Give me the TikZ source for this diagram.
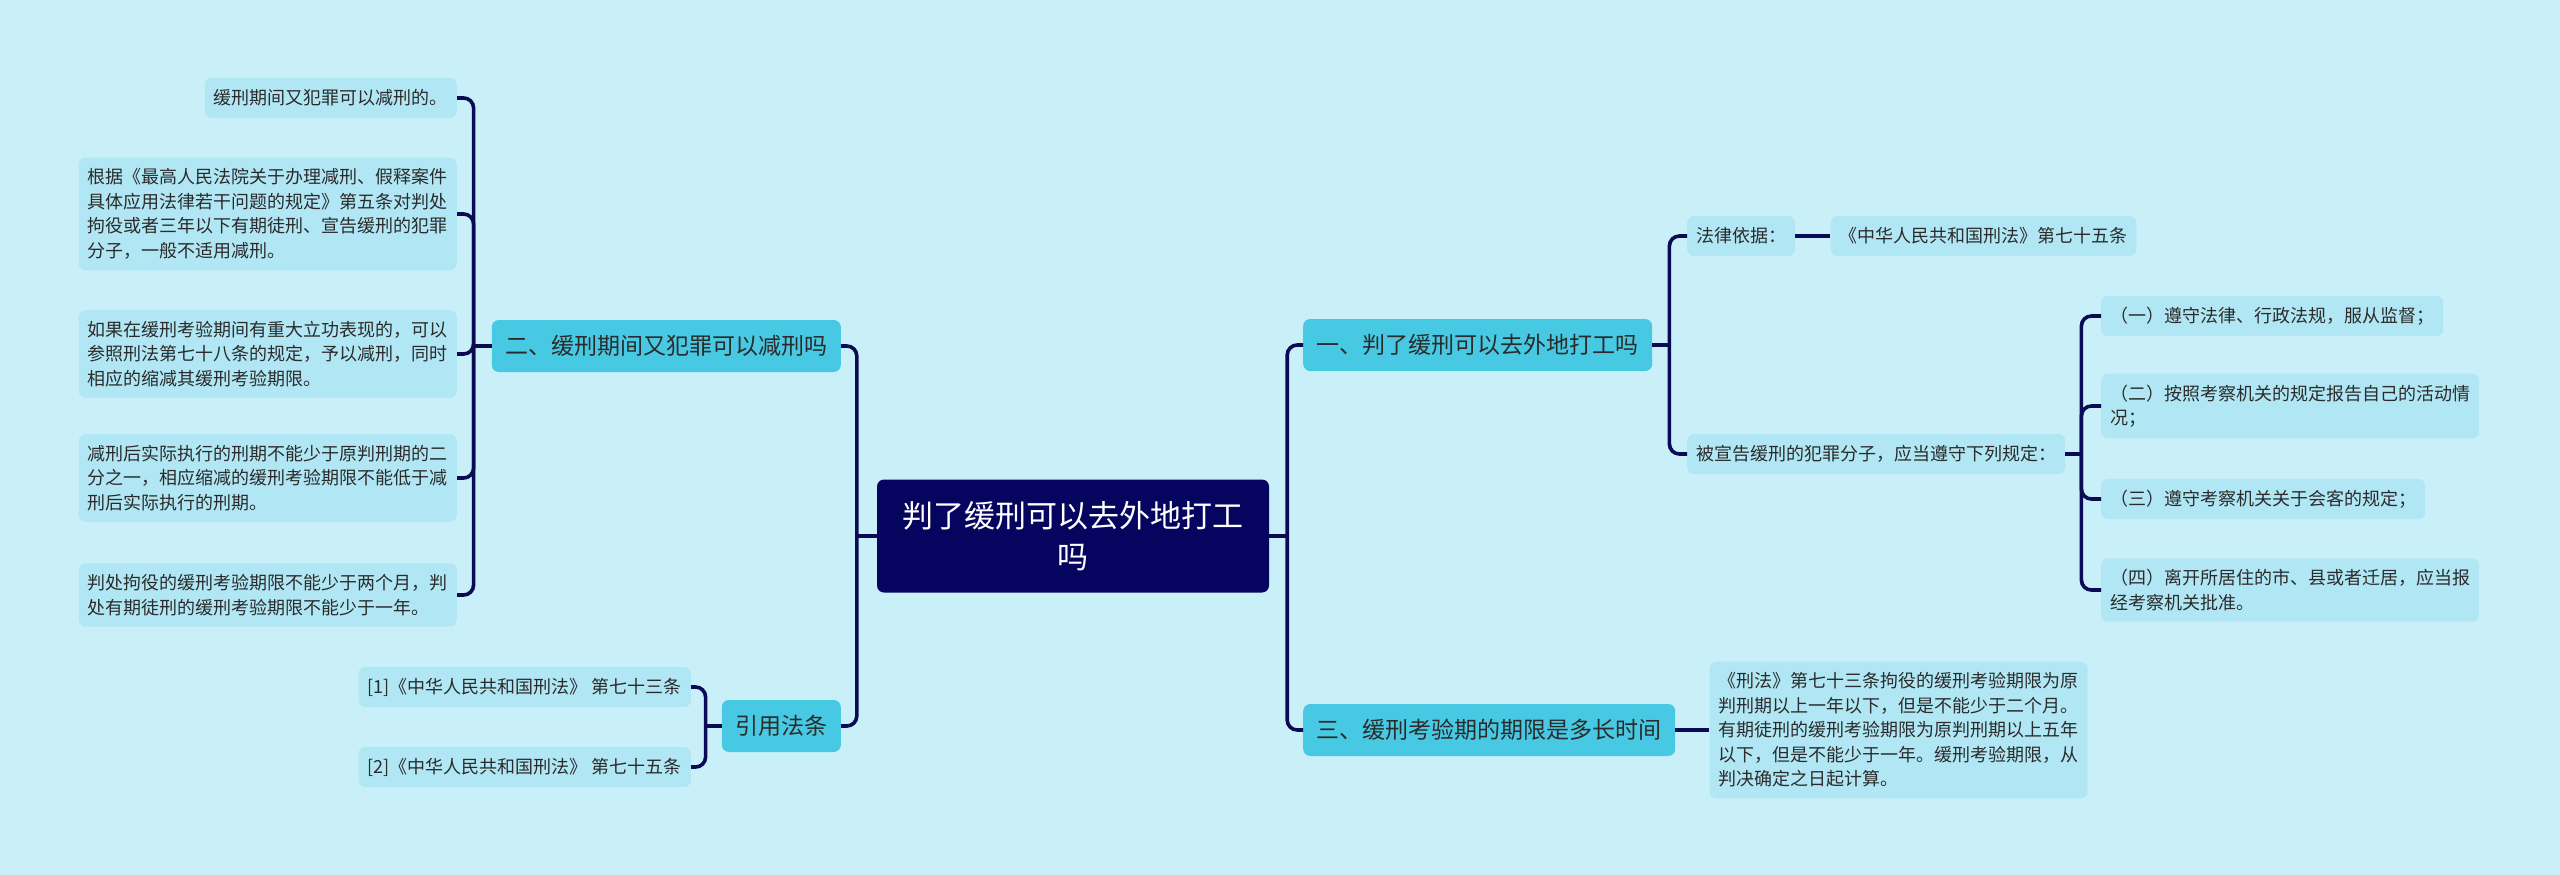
\documentclass[tikz,border=0pt]{standalone}
\usepackage{fontspec}
\setmainfont{Noto Sans CJK SC}
\usetikzlibrary{positioning}
\definecolor{bgc}{HTML}{C9F0F8}
\definecolor{leafc}{HTML}{B1E7F4}
\definecolor{branchc}{HTML}{48C9E3}
\definecolor{rootc}{HTML}{05055F}
\definecolor{linkc}{HTML}{0B0A55}
\definecolor{inkc}{HTML}{2B2B2B}
\newcommand\leafsize{\fontsize{18}{24.5}\selectfont}
\newcommand\branchsize{\fontsize{23}{28}\selectfont}
\newcommand\topicsize{\fontsize{31}{41}\selectfont}
\tikzset{
  leaf/.style={fill=leafc, rounded corners=7pt, align=left, text=inkc, font=\leafsize,
    inner xsep=9pt, inner ysep=11pt, minimum height=40pt},
  branch/.style={fill=branchc, rounded corners=7pt, text=inkc, font=\branchsize,
    inner xsep=13.5pt, minimum height=52pt},
  topic/.style={fill=rootc, rounded corners=7pt, text=white, align=center, font=\topicsize,
    minimum width=392pt, minimum height=113pt},
  link/.style={draw=linkc, line width=3.6pt, rounded corners=10pt}
}

\begin{document}
\begin{tikzpicture}[x=1pt, y=-1pt]
  \fill[bgc] (0,0) rectangle (2560,875);
  \useasboundingbox (0,0) rectangle (2560,875);

  \node[topic] (topic) at (1073,536) {判了缓刑可以去外地打工\\吗};

  % main branches
  \node[branch, anchor=west] (q1) at (1303,345) {一、判了缓刑可以去外地打工吗};
  \node[branch, anchor=west] (q3) at (1303,730) {三、缓刑考验期的期限是多长时间};
  \node[branch, anchor=east] (q2) at (841,346) {二、缓刑期间又犯罪可以减刑吗};
  \node[branch, anchor=east] (cite) at (841,726) {引用法条};

  % branch one
  \node[leaf, anchor=west] (basis) at (1687,236) {法律依据：};
  \node[leaf, right=35pt of basis] (article) {《中华人民共和国刑法》第七十五条};
  \node[leaf, anchor=west] (duty) at (1687,454) {被宣告缓刑的犯罪分子，应当遵守下列规定：};
  \node[leaf, anchor=west] (d1) at (2101,316) {（一）遵守法律、行政法规，服从监督；};
  \node[leaf, anchor=west] (d2) at (2101,406) {（二）按照考察机关的规定报告自己的活动情\\况；};
  \node[leaf, anchor=west] (d3) at (2101,499) {（三）遵守考察机关关于会客的规定；};
  \node[leaf, anchor=west] (d4) at (2101,590) {（四）离开所居住的市、县或者迁居，应当报\\经考察机关批准。};

  % branch three
  \node[leaf, right=34pt of q3] (term) {《刑法》第七十三条拘役的缓刑考验期限为原\\判刑期以上一年以下，但是不能少于二个月。\\有期徒刑的缓刑考验期限为原判刑期以上五年\\以下，但是不能少于一年。缓刑考验期限，从\\判决确定之日起计算。};

  % branch two
  \node[leaf, anchor=east] (r1) at (457,98) {缓刑期间又犯罪可以减刑的。};
  \node[leaf, anchor=east] (r2) at (457,214) {根据《最高人民法院关于办理减刑、假释案件\\具体应用法律若干问题的规定》第五条对判处\\拘役或者三年以下有期徒刑、宣告缓刑的犯罪\\分子，一般不适用减刑。};
  \node[leaf, anchor=east] (r3) at (457,354) {如果在缓刑考验期间有重大立功表现的，可以\\参照刑法第七十八条的规定，予以减刑，同时\\相应的缩减其缓刑考验期限。};
  \node[leaf, anchor=east] (r4) at (457,478) {减刑后实际执行的刑期不能少于原判刑期的二\\分之一，相应缩减的缓刑考验期限不能低于减\\刑后实际执行的刑期。};
  \node[leaf, anchor=east] (r5) at (457,595) {判处拘役的缓刑考验期限不能少于两个月，判\\处有期徒刑的缓刑考验期限不能少于一年。};

  % cited articles
  \node[leaf, anchor=east] (c1) at (691,687) {[1]《中华人民共和国刑法》 第七十三条};
  \node[leaf, anchor=east] (c2) at (691,767) {[2]《中华人民共和国刑法》 第七十五条};

  % connectors
  \draw[link] (topic.east) -- ++(18,0) coordinate (rhub);
  \draw[link] (rhub) |- (q1.west);
  \draw[link] (rhub) |- (q3.west);
  \draw[link] (topic.west) -- ++(-20,0) coordinate (lhub);
  \draw[link] (lhub) |- (q2.east);
  \draw[link] (lhub) |- (cite.east);

  \draw[link] (q1.east) -- ++(17,0) coordinate (q1hub);
  \draw[link] (q1hub) |- (basis.west);
  \draw[link] (q1hub) |- (duty.west);
  \draw[link] (basis) -- (article);
  \draw[link] (duty.east) -- ++(16,0) coordinate (dhub);
  \draw[link] (dhub) |- (d1.west);
  \draw[link] (dhub) |- (d2.west);
  \draw[link] (dhub) |- (d3.west);
  \draw[link] (dhub) |- (d4.west);
  \draw[link] (q3) -- (term);

  \draw[link] (q2.west) -- ++(-18,0) coordinate (q2hub);
  \draw[link] (q2hub) |- (r1.east);
  \draw[link] (q2hub) |- (r2.east);
  \draw[link] (q2hub) |- (r3.east);
  \draw[link] (q2hub) |- (r4.east);
  \draw[link] (q2hub) |- (r5.east);
  \draw[link] (cite.west) -- ++(-16,0) coordinate (chub);
  \draw[link] (chub) |- (c1.east);
  \draw[link] (chub) |- (c2.east);
\end{tikzpicture}
\end{document}
